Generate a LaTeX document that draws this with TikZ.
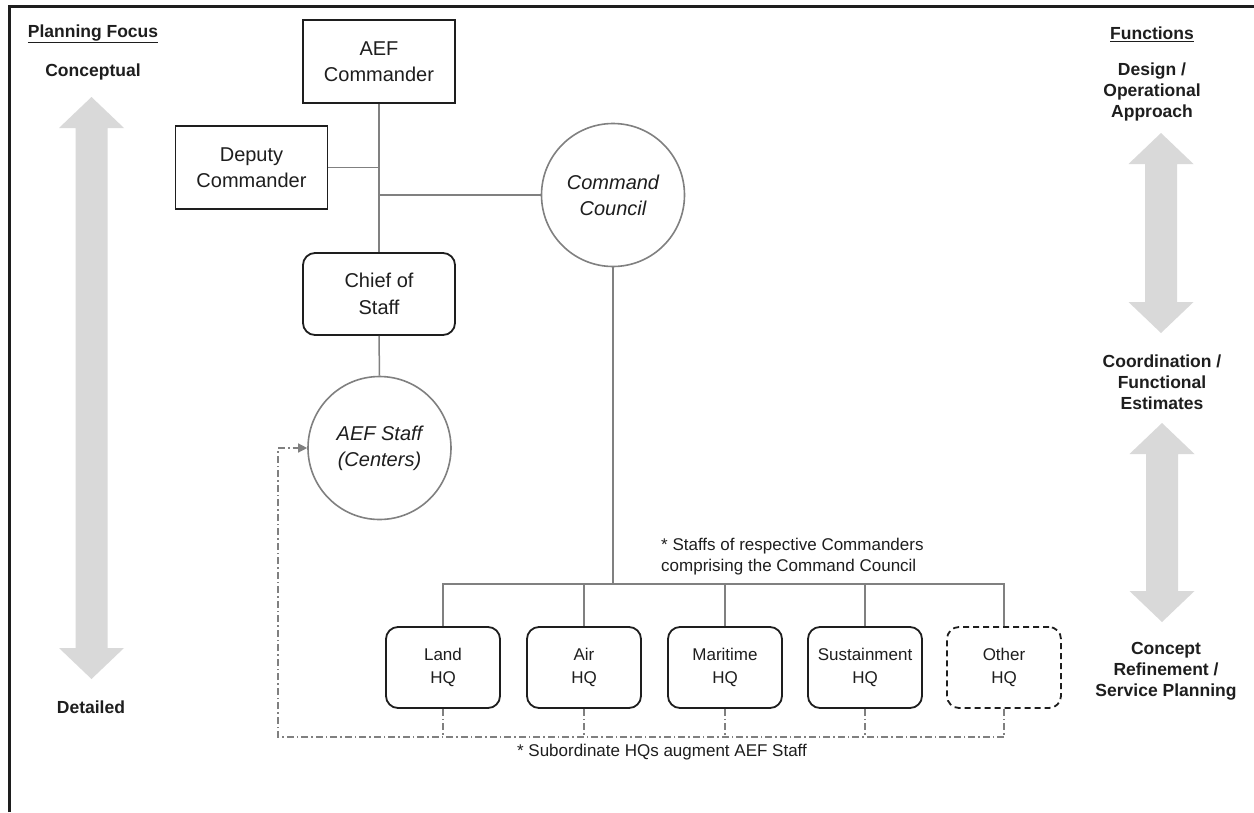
\documentclass[tikz,border=0pt]{standalone}
\usepackage{fontspec}
\setmainfont{Liberation Sans}
\usetikzlibrary{arrows.meta}
\definecolor{ink}{HTML}{1E1E1E}
\definecolor{conngray}{HTML}{808080}
\definecolor{arrowfill}{HTML}{D9D9D9}
\newcommand{\grayDoubleArrow}[3]{%
  \fill[arrowfill] (#1,#2) -- ++(32.5,31) -- ++(-16.5,0) |- (#1+16,#3-31) -- ++(16.5,0)
    -- (#1,#3) -- ++(-32.5,-31) -- ++(16.5,0) |- (#1-16,#2+31) -- ++(-16.5,0) -- cycle;}
\begin{document}
\begin{tikzpicture}[x=1pt,y=-1pt,
  bigtext/.style={font=\fontsize{20}{26.5}\selectfont, text=ink},
  box/.style={draw=ink, line width=1.8pt, minimum width=152pt, minimum height=83pt,
    align=center, inner sep=0pt, bigtext},
  rbox/.style={box, rounded corners=12pt},
  council/.style={draw=conngray, line width=1.6pt, circle, minimum size=143pt,
    inner sep=0pt, align=center, font=\fontsize{20}{26}\selectfont\itshape, text=ink},
  hq/.style={draw=ink, line width=1.8pt, rounded corners=12pt, minimum width=114pt,
    minimum height=81pt, inner sep=0pt, align=center,
    font=\fontsize{17}{22.5}\selectfont, text=ink},
  conn/.style={draw=conngray, line width=1.5pt},
  ddash/.style={draw=conngray, line width=1.3pt, dash pattern=on 7pt off 3pt on 1.5pt off 3pt},
  side/.style={font=\bfseries\fontsize{17.5}{21}\selectfont, text=ink, align=center, inner sep=0pt},
  note/.style={font=\fontsize{17}{21}\selectfont, text=ink, inner sep=0pt}
]
\useasboundingbox (0,0) rectangle (1254,812);
\fill[white] (0,0) rectangle (1254,812);
% frame (partly cut off)
\draw[ink, line width=3pt] (9,812) -- (9,6) -- (1254,6);

% side arrows
\grayDoubleArrow{91.5}{97}{679}
\grayDoubleArrow{1161}{133}{333}
\grayDoubleArrow{1162}{423}{622}

% side labels
\node[side] (pf) at (93,34) {\underline{Planning Focus}};
\node[side] (concl) at (93,72) {Conceptual};
\node[side] (detl) at (91,707) {Detailed};
\node[side] (fun) at (1152,34) {\underline{Functions}};
\node[side] (design) at (1152,92) {Design /\\Operational\\Approach};
\node[side] (coord) at (1162,382) {Coordination /\\Functional\\Estimates};
\node[side] (concept) at (1166,671) {Concept\\Refinement /\\Service Planning};

% org nodes
\node[box] (cmdr) at (379,61.5) {AEF\\Commander};
\node[box] (dep) at (251.5,167.5) {Deputy\\Commander};
\node[rbox, minimum height=82pt] (cos) at (379,294) {Chief of\\Staff};
\node[council] (cc) at (613,195) {Command\\Council};
\node[council] (staff) at (379.5,448) {AEF Staff\\(Centers)};

\node[hq] (land) at (443,667.5) {Land\\HQ};
\node[hq] (air) at (584,667.5) {Air\\HQ};
\node[hq] (mar) at (725,667.5) {Maritime\\HQ};
\node[hq] (sus) at (865,667.5) {Sustainment\\HQ};
\node[hq, dashed, dash pattern=on 6pt off 4pt] (oth) at (1004,667.5) {Other\\HQ};

% connectors
\draw[conn] (cmdr.south) -- (cos.north);
\draw[conn] (dep.east) -- (dep.east -| cmdr.south);
\draw[conn] (cc.west) -- (cc.west -| cmdr.south);
\draw[conn] (cos.south) -- (staff.north);
\coordinate (bus) at (613,584);
\draw[conn] (cc.south) -- (cc.south |- bus);
\draw[conn] (land.north) -- (land.north |- bus) -- (oth.north |- bus) -- (oth.north);
\draw[conn] (air.north) -- (air.north |- bus);
\draw[conn] (mar.north) -- (mar.north |- bus);
\draw[conn] (sus.north) -- (sus.north |- bus);

% notes
\node[note, anchor=west, align=left] (note1) at (661,556.5) {* Staffs of respective Commanders\\comprising the Command Council};
\node[note] (note2) at (662,752) {* Subordinate HQs augment AEF Staff};

% augment dash-dot lines
\coordinate (dd) at (278,737);
\draw[ddash] (land.south) -- (land.south |- dd);
\draw[ddash] (air.south) -- (air.south |- dd);
\draw[ddash] (mar.south) -- (mar.south |- dd);
\draw[ddash] (sus.south) -- (sus.south |- dd);
\draw[ddash] (oth.south) -- (oth.south |- dd);
\draw[ddash, -{Triangle[length=9pt,width=9pt]}, arrows={[fill=conngray]}] (oth.south |- dd) -- (dd) -- (dd |- staff.west) -- (staff.west);
\end{tikzpicture}
\end{document}
